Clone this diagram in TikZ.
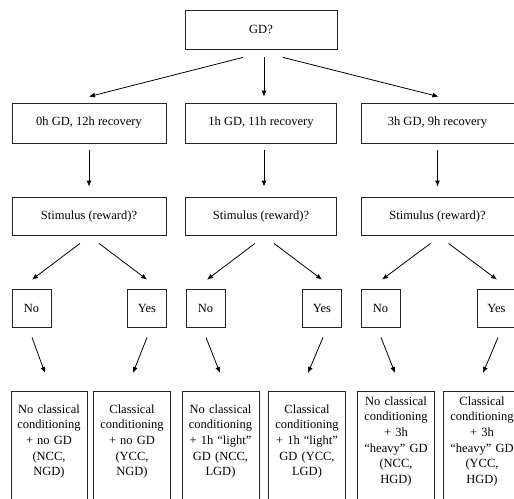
\documentclass[tikz,border=0pt]{standalone}
\usepackage{fontspec}
\setmainfont{Liberation Serif}
\usepackage{tikz}
\usetikzlibrary{arrows.meta}
\tikzset{>={Latex[length=6pt,width=5pt]}}
\tikzset{
  box/.style={draw=black!85, line width=0.8pt, minimum width=152pt, minimum height=39pt,
    inner sep=2pt, font=\fontsize{12.5}{15.7}\selectfont},
  ans/.style={box, minimum width=39pt, minimum height=38pt},
  leaf/.style={draw=black!85, line width=0.8pt, minimum width=77pt, minimum height=120pt,
    text width=72pt, align=center, inner sep=2pt, anchor=north,
    font=\fontsize{12.5}{15.7}\selectfont, execute at end node={\par\vspace*{20pt}}},
  arr/.style={line width=0.8pt, ->}
}

\begin{document}
\begin{tikzpicture}[x=1pt, y=-1pt]
    \clip (0,0) rectangle (514,498);

    \node[box] (gd) at (261,29.5) {GD?};

    \node[box, minimum width=154pt, minimum height=40pt] (r1) at (89,123) {0h GD, 12h recovery};
    \node[box, minimum width=151pt, minimum height=40pt] (r2) at (261,123) {1h GD, 11h recovery};
    \node[box, minimum width=153pt, minimum height=40pt] (r3) at (437.5,123) {3h GD, 9h recovery};

    \node[box, minimum width=154pt, minimum height=38pt] (s1) at (89,216) {Stimulus (reward)?};
    \node[box, minimum width=151pt, minimum height=38pt] (s2) at (261,216) {Stimulus (reward)?};
    \node[box, minimum width=153pt, minimum height=38pt] (s3) at (437.5,216) {Stimulus (reward)?};

    \node[ans] (no1) at (31.5,308) {No};
    \node[ans] (yes1) at (147,308) {Yes};
    \node[ans] (no2) at (205.5,308) {No};
    \node[ans] (yes2) at (322,308) {Yes};
    \node[ans] (no3) at (380.5,308) {No};
    \node[ans] (yes3) at (496.5,308) {Yes};

    \node[leaf, minimum width=74pt] (c1) at (49,391) {No classical\\ conditioning\\ + no GD\\ (NCC,\\ NGD)};
    \node[leaf] (c2) at (132,391) {Classical\\ conditioning\\ + no GD\\ (YCC,\\ NGD)};
    \node[leaf] (c3) at (220.5,391) {No classical\\ conditioning\\ + 1h ``light''\\ GD (NCC,\\ LGD)};
    \node[leaf] (c4) at (307,391) {Classical\\ conditioning\\ + 1h ``light''\\ GD (YCC,\\ LGD)};
    \node[leaf] (c5) at (396,391) {No classical\\ conditioning\\ + 3h\\ ``heavy'' GD\\ (NCC,\\ HGD)};
    \node[leaf] (c6) at (482,391) {Classical\\ conditioning\\ + 3h\\ ``heavy'' GD\\ (YCC,\\ HGD)};

    % first split
    \draw[arr] ([shift={(-18,8)}]gd.south) -- ([shift={(0,-6)}]r1.north);
    \draw[arr] ([shift={(3,8)}]gd.south) -- ([shift={(3,-6)}]r2.north);
    \draw[arr] ([shift={(22,8)}]gd.south) -- ([shift={(1,-6)}]r3.north);

    % down to the stimulus
    \draw[arr] ([shift={(0,7)}]r1.south) -- ([shift={(0,-10)}]s1.north);
    \draw[arr] ([shift={(3,7)}]r2.south) -- ([shift={(3,-10)}]s2.north);
    \draw[arr] ([shift={(0,7)}]r3.south) -- ([shift={(0,-10)}]s3.north);

    % no / yes
    \draw[arr] ([shift={(-9,8)}]s1.south) -- ([shift={(0.5,-9)}]no1.north);
    \draw[arr] ([shift={(10,8)}]s1.south) -- ([shift={(0,-9)}]yes1.north);
    \draw[arr] ([shift={(-6,8)}]s2.south) -- ([shift={(1.5,-9)}]no2.north);
    \draw[arr] ([shift={(13,8)}]s2.south) -- ([shift={(0,-9)}]yes2.north);
    \draw[arr] ([shift={(-7,8)}]s3.south) -- ([shift={(1.5,-9)}]no3.north);
    \draw[arr] ([shift={(11,8)}]s3.south) -- ([shift={(0.5,-9)}]yes3.north);

    % outcomes
    \draw[arr] ([shift={(0.5,10)}]no1.south) -- ([shift={(-4,-18)}]c1.north);
    \draw[arr] ([shift={(0,10)}]yes1.south) -- ([shift={(1,-18)}]c2.north);
    \draw[arr] ([shift={(0.5,10)}]no2.south) -- ([shift={(-0.5,-18)}]c3.north);
    \draw[arr] ([shift={(1,10)}]yes2.south) -- ([shift={(1,-18)}]c4.north);
    \draw[arr] ([shift={(0.5,10)}]no3.south) -- ([shift={(-1,-18)}]c5.north);
    \draw[arr] ([shift={(1.5,10)}]yes3.south) -- ([shift={(1,-18)}]c6.north);
\end{tikzpicture}
\end{document}
